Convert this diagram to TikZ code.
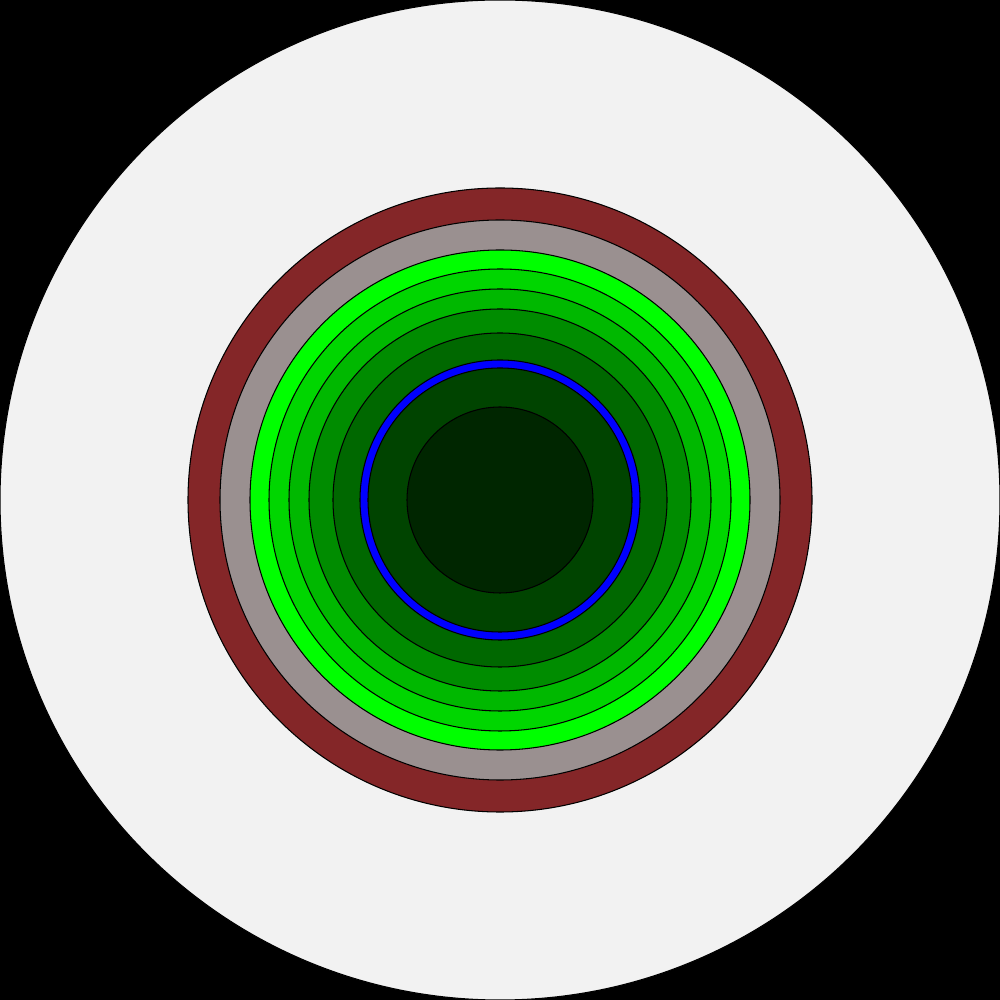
\documentclass[tikz,border=0pt]{standalone}
\begin{document}
\begin{tikzpicture}[x=0.01cm,y=0.01cm,
  ring/.style={draw=black,line width=0.3pt}]
\fill[black] (0,0) rectangle (1000,1000);
\useasboundingbox (0,0) rectangle (1000,1000);
\coordinate (c) at (500,500);
\fill[ring,fill={rgb,255:red,242;green,242;blue,242}] (c) circle (500);
\filldraw[ring,fill={rgb,255:red,132;green,38;blue,40}] (c) circle (312);
\filldraw[ring,fill={rgb,255:red,154;green,144;blue,144}] (c) circle (280);
\filldraw[ring,fill={rgb,255:red,0;green,255;blue,0}] (c) circle (250);
\filldraw[ring,fill={rgb,255:red,0;green,214;blue,0}] (c) circle (231);
\filldraw[ring,fill={rgb,255:red,0;green,184;blue,0}] (c) circle (211);
\filldraw[ring,fill={rgb,255:red,0;green,140;blue,0}] (c) circle (191);
\filldraw[ring,fill={rgb,255:red,0;green,104;blue,0}] (c) circle (167);
\filldraw[ring,fill={rgb,255:red,0;green,0;blue,255}] (c) circle (140);
\filldraw[ring,fill={rgb,255:red,0;green,68;blue,0}] (c) circle (132);
\filldraw[ring,fill={rgb,255:red,0;green,38;blue,0}] (c) circle (93);
\end{tikzpicture}
\end{document}
